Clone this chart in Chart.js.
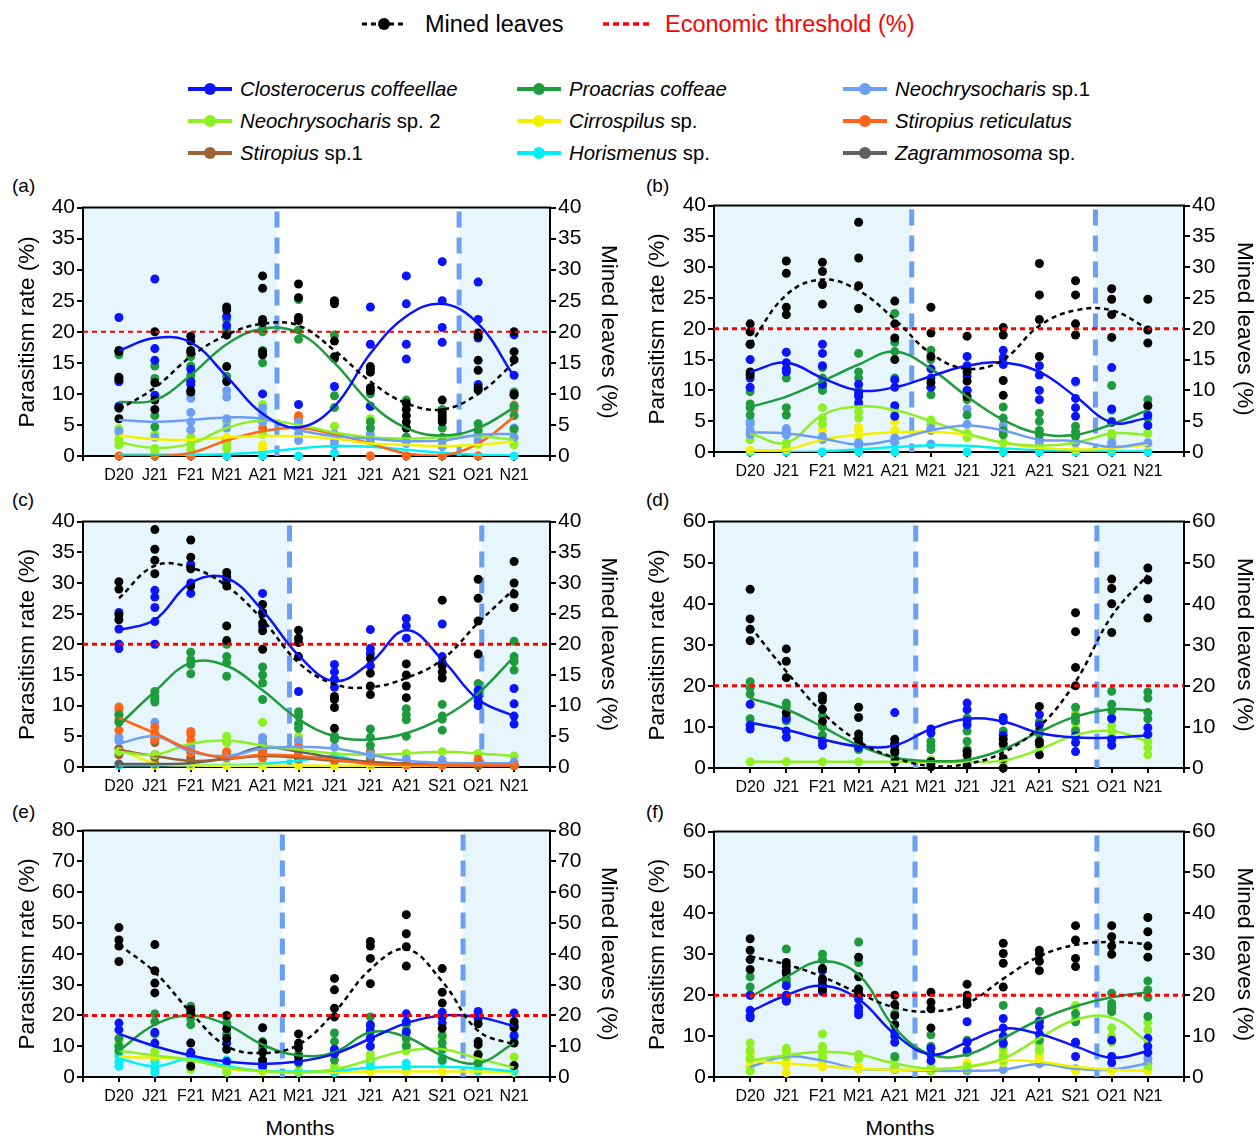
<!DOCTYPE html>
<html>
<head>
<meta charset="utf-8">
<script src="https://cdn.jsdelivr.net/npm/chart.js@4.4.1/dist/chart.umd.min.js"></script>
<style>
  body { margin: 0; background: #fff; width: 1258px; height: 1136px; overflow: hidden; position: relative;
         font-family: "Liberation Sans", Arial, sans-serif; color: #000; }
  .lg { position: absolute; height: 26px; display: flex; align-items: center; white-space: nowrap; }
  .lg svg { flex: none; }
  .big { font-size: 23.5px; }
  .sp { font-size: 20.3px; }
  .sp i { font-style: italic; }
  .tag { position: absolute; font-size: 19px; line-height: 20px; }
  .xt { position: absolute; font-size: 21px; line-height: 24px; width: 120px; text-align: center; }
</style>
</head>
<body>

<div class="lg big" style="left:362px;top:11px">
  <svg width="44" height="14"><line x1="0" y1="7" x2="44" y2="7" stroke="#000" stroke-width="3" stroke-dasharray="5 4"/><circle cx="22" cy="7" r="6" fill="#000"/></svg>
  <span style="margin-left:19px">Mined leaves</span>
</div>
<div class="lg big" style="left:603px;top:11px">
  <svg width="47" height="14"><line x1="0" y1="7" x2="47" y2="7" stroke="#ff0000" stroke-width="3.5" stroke-dasharray="6 4"/></svg>
  <span style="margin-left:15px;color:#ff0000">Economic threshold (%)</span>
</div>
<div id="legend"></div>

<div class="tag" style="left:12px;top:176px">(a)</div>
<div class="tag" style="left:646px;top:176px">(b)</div>
<div class="tag" style="left:12px;top:490px">(c)</div>
<div class="tag" style="left:646px;top:490px">(d)</div>
<div class="tag" style="left:12px;top:802px">(e)</div>
<div class="tag" style="left:646px;top:802px">(f)</div>
<div class="xt" style="left:240px;top:1116px">Months</div>
<div class="xt" style="left:840px;top:1116px">Months</div>

<script>
// months on the x axis
const months = ['D20', 'J21', 'F21', 'M21', 'A21', 'M21', 'J21', 'J21', 'A21', 'S21', 'O21', 'N21'];

// (a)
const aMined = [7.5, 11, 16, 19.5, 21.3, 21, 17, 12, 8.5, 7.5, 10, 15];
const aMinedPts = [[17, 16.8, 12.7, 12.3, 7.7, 6], [20, 11.8, 9, 7.5], [19.3, 18.5, 17, 16.7, 10.5, 10.3], [24, 23.5, 19.5, 14.4, 12], [29, 27, 22, 21.5, 16.8, 16.3], [27.7, 25.5, 22.3, 21.8], [25, 24.5, 18.5, 16, 15.7], [14.4, 14, 13.5, 11, 10.5], [8.5, 7.5, 6.5, 5.5, 4.5], [9, 7, 6.5, 6, 5.5], [19.8, 19.3, 15.4, 13.8, 11, 10.6], [20, 16.8, 15.5, 10, 9.8]];
const aClos = [17, 19, 18.3, 12.8, 6.8, 4.6, 8, 16.5, 22.5, 24.5, 21.3, 12.8];
const aClosPts = [[22.3, 12, 8], [28.5, 17.3, 15.4, 9.8], [14, 12, 11.5], [22.5, 21, 19.5], [10], [8.3], [11.2], [24, 18, 8], [29, 24.5, 18, 15.6], [31.3, 25, 20.7, 18.3], [28, 22, 19, 11.5], [19.5, 13]];
const aProa = [8.7, 9, 13, 18, 20.5, 19.8, 15, 8.5, 4.5, 3.3, 4.5, 7.8];
const aProaPts = [[16.3, 12, 8], [14.5, 12.5, 6.5, 4.7], [16, 14.5, 13, 12], [22, 20.5, 12.8], [20.5, 20, 17, 15], [25.2, 20.3, 18.8], [19.5, 9.7, 7.8], [10, 8, 5.5, 4.5], [9, 4.5, 3], [7.5, 4.5, 3], [5.2, 4.2], [10.3, 8, 6.5, 4.3]];
const aNeo1 = [5.8, 5.5, 5.8, 6.2, 6, 4.2, 3.2, 2.8, 2.4, 2.5, 3.4, 3.6];
const aNeo1Pts = [[4], [3], [10, 9.3, 7, 5.5, 4.2], [10.5, 9.5, 6, 4.5], [7.7, 6.7, 6, 5.5], [5.5, 4.5, 3.5, 2.5], [3.5, 2.5, 1.8], [3.5, 2.5], [3, 2], [2.5, 1.5], [3.5, 2.5], [4.5, 3]];
const aNeo2 = [2.2, 1.3, 2, 4.5, 5.7, 5, 3.8, 3, 2.8, 3, 3.2, 2.6];
const aNeo2Pts = [[4.4, 2.7, 1.8], [3.5, 1.2, 0.6], [3, 2, 1], [5.5, 2, 1.2], [8.3, 5.5, 3.5], [4.5, 3.5], [4.8, 3], [6, 5.5, 3], [3, 2.2], [3, 1.8], [4, 2], [3, 1.8]];
const aCirr = [3.3, 2.7, 2.6, 3, 3.2, 3.2, 2.8, 2, 1.8, 1.6, 1.8, 2.3];
const aCirrPts = [[3.5, 2.5], [3.5], [2.8], [3], [1.8, 1.3], [4.5], [3], [2], [2], [1.5], [1.8], [2.3]];
const aStir = [0, 0, 0.5, 2.5, 4, 4.5, 3.5, 2, 0.4, 0.1, 2, 6.3];
const aStirPts = [[0], [0], [0], [2.5], [4.5], [6.5, 6], [3.5], [0], [0], [0], [0], [8.2, 7.5]];
const aHor = [0.2, 0.2, 0.2, 0.3, 0.6, 1.2, 1.6, 1.5, 1, 0.5, 0.2, 0.1];
const aHorPts = [[0], [0], [0], [0], [0], [0], [0.5], [0], [0], [0], [0], [0]];

// (b)
const bMined = [17.5, 25.5, 28, 26.2, 21.5, 16, 13.5, 15, 20.5, 23, 23, 20];
const bMinedPts = [[20.8, 19.5, 17.5, 13, 12.5], [31, 29, 23.5, 22.3], [30.8, 29.3, 27.2, 24], [37.3, 31.5, 27, 23.3], [24.5, 20.8, 18.5, 15], [23.5, 19.3, 15.5, 11.3], [18.8, 13, 11.5, 9], [20.2, 19, 11.6, 9.2], [30.6, 25.5, 21.5, 15.5], [27.8, 25.5, 20.8, 19], [26.5, 24.8, 22.3, 18.6], [24.8, 19.8, 17.7, 7.5]];
const bClos = [13, 14.5, 12, 10, 10.5, 12.3, 14, 14.5, 13, 9, 4.8, 5.5];
const bClosPts = [[17.5, 15, 12, 10.5], [16.2, 14.5, 13.5, 13], [17.5, 16, 14, 11], [11, 9.5, 9, 8], [11.7, 10.5, 7.5, 5.8], [13.5, 12, 10.5], [15.5, 14, 12.3, 10], [16.5, 15.3, 14.2], [14, 12.5, 10, 8.5], [11.5, 8.7, 7.2, 5.8], [13.7, 7, 4.8], [6, 4.3]];
const bProa = [7.3, 9, 11.5, 14.2, 16.3, 13.5, 9, 5.2, 3, 2.8, 4.5, 6.8];
const bProaPts = [[9.8, 7.8, 7.2, 6], [12, 7.2, 6], [13.7, 12, 10.5, 10], [16, 13, 12, 10], [22.5, 17.8, 16.3, 12], [16.5, 15, 10.5, 9.3], [10, 8.5, 6], [7.3, 5.5, 3.5, 2.8], [6.3, 5, 3.5, 2.8], [4.2, 3.3, 2.5], [10.8, 6.8, 5], [8.5, 7.5, 5.5]];
const bNeo1 = [3.2, 3, 2.2, 1.2, 2, 3.5, 4.3, 3.5, 2, 1.8, 0.8, 1.5];
const bNeo1Pts = [[5, 4.5, 3.5, 2.8], [3.8, 3.5, 2.8], [2.5, 2], [1.5, 1], [2.3, 1.6], [3.8, 3.5, 1.2], [7, 4.5], [4.3, 3.5], [2, 1.7], [11.3, 1.5], [1.5, 1], [1.5]];
const bNeo2 = [3, 1.5, 6, 7.4, 6.8, 5, 3, 1.5, 1, 1.5, 3, 2.8];
const bNeo2Pts = [[3, 2], [1.5, 0.8], [7.2, 5.5, 4.5], [7.5, 6.5, 5.5], [7, 6], [5.2, 4.5], [3, 2.3], [1.5], [1], [1.5], [3, 2.5], [3]];
const bCirr = [0.3, 0.4, 2, 2.8, 3.2, 3.3, 2.8, 1.5, 0.7, 0.4, 0.6, 1.2];
const bCirrPts = [[0.3], [0.4], [3.5], [4, 3.5, 2.5], [5, 3.5], [3.5], [3], [1.5], [0.7], [0.4], [0.6], [1.2]];
const bHor = [0, 0, 0.1, 0.4, 0.8, 1.1, 1, 0.6, 0.3, 0.2, 0.1, 0.1];
const bHorPts = [[0], [0], [0], [0], [0], [1.3], [0], [0], [0], [0], [0], [0]];

// (c)
const cMined = [27.5, 32.8, 32.5, 29.5, 24, 17, 13.5, 13, 14.5, 17.5, 23.5, 29];
const cMinedPts = [[30.2, 29, 24.8, 24], [38.7, 35.5, 33.7, 31.5], [37, 34.2, 32.3, 29.5], [31.7, 31, 29.5, 23, 20.6], [26.5, 25.2, 23.5, 22.2, 19.2], [22.3, 21, 20.3, 18], [11.5, 11, 9.7, 6.3], [17.7, 15.3, 13.2, 11.8], [16.8, 15, 13.2, 11.3], [27.2, 16.5, 15.5, 14.5], [30.6, 27.5, 23.8, 18.4], [33.5, 30, 28.2, 26]];
const cClos = [22.3, 24, 30, 30.8, 25.5, 18.2, 14, 17, 22.3, 17.5, 11, 8.3];
const cClosPts = [[25.2, 22.5, 20, 19.3], [28.8, 27.7, 26, 23.7, 20], [33, 30, 28.3], [31, 30.5], [28.3, 25, 23], [12.3], [16.7, 15.5, 14.3, 13], [22.4, 19.3, 18.5, 16.5], [24.2, 23, 21], [23.3, 18, 17], [12.5, 11.5, 10.8, 10], [12.8, 10.3, 8.3, 7]];
const cProa = [6.8, 12.3, 17, 16.5, 12.5, 7.8, 5, 4.5, 5.5, 8, 12, 18];
const cProaPts = [[8.5, 7.3], [12.3, 11.5, 11, 10.6], [18.7, 17.5, 16.7, 15.2], [20, 18, 17, 14.8], [16.3, 15, 13.7, 11], [9, 8.3, 7, 6.3], [5, 4.5], [6.2, 4.8, 3.5], [9.5, 8.5, 7.7, 5], [10.2, 8.3, 7.8, 6], [13.6, 12.5, 12], [20.5, 18, 17.2, 15.8]];
const cNeo1 = [3.8, 5, 2.5, 1.8, 3, 3.3, 3, 2, 1, 0.7, 0.6, 0.6];
const cNeo1Pts = [[4.8, 4.3], [7.3, 4.5], [3.3, 2.5], [1.5], [4.8, 4], [4.3, 3.5], [3.2], [2], [1.3], [1.1], [0.8], [0.8]];
const cNeo2 = [2.5, 2, 3.8, 4.3, 3.5, 2.8, 2.2, 2, 2.2, 2.5, 2.2, 1.8];
const cNeo2Pts = [[2.5], [2], [3], [5, 4], [7.3], [5, 4.3], [5], [2], [2.2], [2.5], [2.2], [1.8]];
const cCirr = [3, 0.6, 0.3, 0.2, 0.2, 0.2, 0.2, 0.2, 0.2, 0.2, 0.2, 0.2];
const cCirrPts = [[3], [0.3], [0.2], [0.2], [0.2], [0.2], [0.2], [0.2], [0.2], [0.2], [0.2], [0.2]];
const cStir = [8, 5.5, 2.8, 1.5, 2, 1.8, 1.2, 0.5, 0.3, 0.3, 0.3, 0.3];
const cStirPts = [[9.8, 9.3, 8.5, 7.7, 6], [6.5, 5.5, 5, 4.5], [5.8, 5.3, 4.3, 2.3], [2.5, 2], [2.3, 1.5], [3.2, 2.3], [1.2], [0.5], [0.3], [0.3], [1.3], [0.3]];
const cStir1 = [2.8, 1.8, 1, 1.3, 1.8, 1.5, 1, 0.8, 0.5, 0.3, 0.2, 0.2];
const cStir1Pts = [[3, 2], [4, 2, 1.5], [1.5], [2], [3, 2.5, 2], [1.3], [1], [2.5, 2, 1.5], [0.5], [0.3], [0.2], [0.2]];
const cHor = [0.3, 0.3, 0.3, 0.3, 0.5, 1, 1.8, 0.5, 0.3, 0.3, 0.3, 0.3];
const cHorPts = [[0.3], [0.3], [0.3], [0.3], [0.5], [1], [1.8], [0.5], [0.3], [0.3], [0.3], [0.3]];
const cZag = [0.5, 0.5, 0.6, 1.5, 3.2, 2.5, 1.5, 0.8, 0.5, 0.4, 0.4, 0.4];
const cZagPts = [[0.5], [0.5], [0.6], [1.5], [3.8, 3.2], [2.5], [1.5], [0.8], [0.5], [0.4], [0.4], [0.4]];

// (d)
const dMined = [34.5, 23.5, 13.5, 6.5, 2.5, 0.5, 1, 3.8, 10, 21, 37, 47];
const dMinedPts = [[43.5, 36.3, 33.8, 31], [29, 26, 22, 13.5], [17.5, 16.5, 14.3, 11.3], [14.8, 12.3, 8.3, 7.2, 6], [7, 5.8, 4.3, 3.8, 1.4], [1.6, 1, 0.3], [4, 3.2, 1.6, 0.7], [7, 6, 2.3, 0], [15, 6.5, 5.8, 3.2], [37.8, 33.2, 24.5, 20], [46, 43.7, 40, 33], [48.7, 45.8, 41.2, 36.5]];
const dClos = [11, 9.3, 7, 5.3, 5.5, 9.5, 12, 11.3, 8.5, 7.4, 7.4, 8];
const dClosPts = [[15.5, 10.5, 9.5], [12, 9, 7.5], [6.5, 5.5], [5], [13.5, 6, 5.5], [9.5, 8.5], [15.8, 14.2, 11.5, 10.5], [12.3, 11.5, 8], [13, 10.5], [7.8, 6.2, 4], [12, 7, 5.5], [9.8, 8.2]];
const dProa = [17, 14.3, 10, 5.5, 2.5, 1.7, 2, 4.5, 8.8, 12.5, 14.3, 14];
const dProaPts = [[21, 19.5, 18, 12], [15.8, 15, 12.5, 11.5], [12.7, 10, 8], [6.5, 4.5], [2.5], [6.5, 5.5, 4.5], [12.2, 9, 6.5, 4.5], [9, 5.5], [11.3, 9.2, 8.3], [14.8, 12.5, 11.5, 9], [18.7, 15.5, 14, 12.2], [18.5, 17, 13.5, 12]];
const dNeo2 = [1.5, 1.5, 1.5, 1.5, 1.5, 1.5, 1.5, 1.8, 4.5, 8, 9, 6.5];
const dNeo2Pts = [[1.5], [1.5], [1.5], [1.5], [1.5], [2], [1.5], [2, 1.5], [4.7], [13.3, 11, 9.5, 8.2], [10.3, 9, 7.8, 6.5], [8, 6.5, 5, 3.2]];

// (e)
const eMined = [43, 34, 21, 10, 7.8, 10.5, 21, 35, 41.5, 31, 15, 10.5];
const eMinedPts = [[48.5, 44.5, 42.5, 37.5], [43, 34.5, 30.5, 27.3], [22, 20.5, 11, 3.5], [20, 15.7, 12.5, 9], [16, 11, 8, 5.5], [14, 11, 9.5, 6.5], [32, 28.3, 22.3, 19.5], [44, 42.5, 38.5, 30.3], [52.7, 46.5, 42.3, 36], [35.2, 27.5, 24, 15.8], [17.3, 11.5, 10.5, 7.2], [18, 16, 11, 3.7]];
const eClos = [14, 10, 7, 5, 4.2, 5, 7.5, 12.5, 17.5, 20, 19.5, 16.5];
const eClosPts = [[17.5, 15.3], [14.5, 11], [8, 7], [11, 5], [4.5, 3.5], [5], [9, 7.5], [17, 15, 12.5, 10], [20.5, 18, 14.5], [21, 19.3, 17.5], [21.3, 20.3, 19], [20.8, 16.5, 13.5]];
const eProa = [8.5, 17, 20, 17, 10.5, 7, 8, 14.5, 13, 7, 4.5, 11];
const eProaPts = [[12.5, 10, 8.5], [20.5, 18, 14], [23, 21.5, 19, 17], [19.5, 17.5, 14], [11.5, 9.5, 5.5], [7.5, 4.5], [14.3, 11.5, 8, 5.5], [19.5, 16.5, 14.5, 12.5], [17, 15, 12.5, 10], [13.5, 11, 9, 5.5], [7.5, 4.5], [17, 13, 11.5]];
const eNeo2 = [8.5, 7, 5.5, 3, 2, 1.5, 2.5, 5.5, 8.5, 9, 6, 3];
const eNeo2Pts = [[11, 9], [8.3, 6.5], [5, 2.5], [3, 1.5], [2], [2], [3.5], [7.5, 6], [10.5, 8.5], [12.5, 9], [7.5, 5], [6.5, 3.5]];
const eCirr = [6.5, 6.3, 5.8, 2.8, 1.8, 1.5, 1.5, 1.8, 1.8, 1.8, 1.8, 1.5];
const eCirrPts = [[6.5], [6], [5.5], [3], [2], [1.5], [1.5], [1.8], [1.8], [1.8], [1.8], [1.5]];
const eHor = [6, 3.5, 6, 3.5, 2, 1.8, 2, 3, 3.3, 3.3, 2.8, 1.8];
const eHorPts = [[10, 7, 5, 3.5], [5, 3, 1.5], [7, 5, 3], [5.5, 3.5], [2.5], [1.5], [2, 1.5], [5, 3.5], [4.5, 3], [6.5, 5], [3.5, 2], [2]];

// (f)
const fMined = [29.5, 27.5, 24.5, 20.5, 17, 16, 18, 24, 29.5, 32.3, 33, 32.5];
const fMinedPts = [[33.8, 31, 28.7, 26.3], [28, 27, 26, 25.3], [26.5, 24, 22.5, 21.3], [29.3, 24.5, 21.5, 20.5], [20, 17.7, 15, 12.8], [20.7, 18.3, 16.7, 12], [22.7, 20, 18.8, 17.7], [32.7, 30.2, 27.8, 22], [31, 30, 28.3, 26], [37, 33.5, 29, 27], [37, 34.3, 32, 30], [39, 35.5, 32, 29.3]];
const fClos = [16, 20, 22.3, 19, 10.5, 5.5, 8.5, 11.8, 10.5, 7.5, 4.7, 6.3];
const fClosPts = [[20, 16.3, 15, 14.5], [22.3, 20, 19, 18.5], [26, 23.5, 22, 20.8], [19, 17, 16, 15.2], [11, 10, 8.5], [7, 5.5, 4], [13.5, 8.5, 6.5], [14.3, 12, 10, 8.3], [13.7, 12.3, 10.5], [8.5, 5], [9, 5, 3.5], [9.5, 7.5, 6]];
const fProa = [19.5, 24.5, 28.3, 25, 12, 5.5, 5.5, 9.5, 14, 17.3, 19.5, 20.7];
const fProaPts = [[24.5, 22, 20], [31.3, 24, 23.3], [30, 28.7, 26.5], [33, 28, 21.5], [15.5, 12.8, 5], [10.3, 7.5], [9, 6], [17.5, 8], [16, 13.5, 9], [15.5, 13.5, 8.5], [20.5, 18, 17, 16], [23.5, 21.3, 19.5, 14.8]];
const fNeo1 = [2.5, 5, 4, 2, 1.8, 1.5, 1.5, 1.8, 3.2, 2, 1.8, 3.3];
const fNeo1Pts = [[2.5], [5], [4], [2], [1.8], [1.5], [1.5], [1.8], [3.2], [2], [1.8], [3.3, 4.5]];
const fNeo2 = [4, 5.3, 6.2, 5.5, 3.3, 2, 2.5, 4.5, 9.5, 14, 14.5, 8.5];
const fNeo2Pts = [[8.3, 6.5, 4.5, 1.5], [7, 6.5, 5], [10.5, 7.5, 6.5, 5], [5.5, 4.5], [4.5, 2.5], [2.5, 1.5], [2.5, 2], [7, 5, 4], [9.5, 8, 6.5], [17.5, 14.5, 13.5, 8], [16, 12, 10, 8.5], [13.3, 11.5, 9, 2.5]];
const fCirr = [4, 3.3, 2.7, 2, 1.8, 1.8, 2.5, 4, 3.7, 2.5, 1.8, 1.5];
const fCirrPts = [[6, 5, 4, 2.5, 1.5], [6, 5, 4, 3, 1], [5, 3.5, 2.5], [2.5, 2], [2], [2], [3.5, 2.5], [6, 5, 3.5], [7, 6, 5, 4.5], [1.5], [1.5], [1.5]];

const threshold = 20;

// species colours and legend names
const species = {
  clos:  { color: '#0a14ff', name: '<i>Closterocerus coffeellae</i>' },
  proa:  { color: '#1e9b3c', name: '<i>Proacrias coffeae</i>' },
  neo1:  { color: '#6c9ef5', name: '<i>Neochrysocharis</i> sp.1' },
  neo2:  { color: '#8cf023', name: '<i>Neochrysocharis</i> sp. 2' },
  cirr:  { color: '#f2f200', name: '<i>Cirrospilus</i> sp.' },
  stir:  { color: '#ff6418', name: '<i>Stiropius reticulatus</i>' },
  stir1: { color: '#9b6432', name: '<i>Stiropius</i> sp.1' },
  hor:   { color: '#00f0f5', name: '<i>Horismenus</i> sp.' },
  zag:   { color: '#5f5f5f', name: '<i>Zagrammosoma</i> sp.' }
};

// legend grid
const legendOrder = ['clos', 'proa', 'neo1', 'neo2', 'cirr', 'stir', 'stir1', 'hor', 'zag'];
const legendCols = [188, 517, 843];
const legendRows = [89, 121, 153];
const legendBox = document.getElementById('legend');
legendOrder.forEach((k, i) => {
  const d = document.createElement('div');
  d.className = 'lg sp';
  d.style.left = legendCols[i % 3] + 'px';
  d.style.top = (legendRows[Math.floor(i / 3)] - 13) + 'px';
  const c = species[k].color;
  d.innerHTML = `<svg width="44" height="14"><line x1="0" y1="7" x2="44" y2="7" stroke="${c}" stroke-width="4"/>` +
    `<circle cx="22" cy="7" r="6" fill="${c}"/></svg><span style="margin-left:8px">${species[k].name}</span>`;
  legendBox.appendChild(d);
});

const panels = [
  { max: 40, step: 5, d1: 4.4, d2: 9.47, mined: aMined, minedPts: aMinedPts,
    series: [['hor', aHor, aHorPts], ['stir', aStir, aStirPts], ['cirr', aCirr, aCirrPts], ['neo2', aNeo2, aNeo2Pts],
             ['neo1', aNeo1, aNeo1Pts], ['proa', aProa, aProaPts], ['clos', aClos, aClosPts]] },
  { max: 40, step: 5, d1: 4.47, d2: 9.55, mined: bMined, minedPts: bMinedPts,
    series: [['hor', bHor, bHorPts], ['cirr', bCirr, bCirrPts], ['neo2', bNeo2, bNeo2Pts], ['neo1', bNeo1, bNeo1Pts],
             ['proa', bProa, bProaPts], ['clos', bClos, bClosPts]] },
  { max: 40, step: 5, d1: 4.75, d2: 10.1, mined: cMined, minedPts: cMinedPts,
    series: [['hor', cHor, cHorPts], ['cirr', cCirr, cCirrPts], ['zag', cZag, cZagPts], ['stir1', cStir1, cStir1Pts],
             ['neo2', cNeo2, cNeo2Pts], ['neo1', cNeo1, cNeo1Pts], ['stir', cStir, cStirPts],
             ['proa', cProa, cProaPts], ['clos', cClos, cClosPts]] },
  { max: 60, step: 10, d1: 4.58, d2: 9.59, mined: dMined, minedPts: dMinedPts,
    series: [['neo2', dNeo2, dNeo2Pts], ['proa', dProa, dProaPts], ['clos', dClos, dClosPts]] },
  { max: 80, step: 10, d1: 4.55, d2: 9.58, mined: eMined, minedPts: eMinedPts,
    series: [['cirr', eCirr, eCirrPts], ['hor', eHor, eHorPts], ['neo2', eNeo2, eNeo2Pts],
             ['proa', eProa, eProaPts], ['clos', eClos, eClosPts]] },
  { max: 60, step: 10, d1: 4.56, d2: 9.59, mined: fMined, minedPts: fMinedPts,
    series: [['neo1', fNeo1, fNeo1Pts], ['cirr', fCirr, fCirrPts], ['neo2', fNeo2, fNeo2Pts],
             ['proa', fProa, fProaPts], ['clos', fClos, fClosPts]] }
];

// where each panel sits on the page
const boxes = [
  { left: 0,   w: 630, top: 205, bottom: 456,  lw: 83, rw: 80, rpad: 8, xh: 32, thr: 2 },
  { left: 630, w: 628, top: 203, bottom: 452,  lw: 84, rw: 74, rpad: 0, xh: 32, thr: 3 },
  { left: 0,   w: 630, top: 519, bottom: 767,  lw: 83, rw: 80, rpad: 8, xh: 32, thr: 3 },
  { left: 630, w: 628, top: 519, bottom: 768,  lw: 84, rw: 74, rpad: 0, xh: 32, thr: 3 },
  { left: 0,   w: 630, top: 828, bottom: 1077, lw: 83, rw: 80, rpad: 8, xh: 36, thr: 3 },
  { left: 630, w: 628, top: 829, bottom: 1077, lw: 84, rw: 74, rpad: 0, xh: 36, thr: 3 }
];

Chart.defaults.font.family = '"Liberation Sans", Arial, sans-serif';
Chart.defaults.color = '#000';

const asLine = arr => arr.map((v, i) => ({ x: i, y: v }));
const asPts = arr => arr.flatMap((vals, i) => vals.map(v => ({ x: i, y: v })));

// dry-season shading, season boundaries and the top frame line
const seasonPlugin = {
  id: 'seasons',
  beforeDraw(chart, args, o) {
    const { ctx, chartArea: ca, scales: { x } } = chart;
    const x1 = x.getPixelForValue(o.d1), x2 = x.getPixelForValue(o.d2);
    ctx.save();
    ctx.fillStyle = '#e7f5fd';
    ctx.fillRect(ca.left, ca.top, x1 - ca.left, ca.height);
    ctx.fillRect(x2, ca.top, ca.right - x2, ca.height);
    ctx.restore();
  },
  beforeDatasetsDraw(chart, args, o) {
    const { ctx, chartArea: ca, scales: { x } } = chart;
    ctx.save();
    ctx.strokeStyle = '#6b9ff2';
    ctx.lineWidth = 5;
    ctx.setLineDash([16, 10]);
    [o.d1, o.d2].forEach(v => {
      const px = x.getPixelForValue(v);
      ctx.beginPath();
      ctx.moveTo(px, ca.top + 4);
      ctx.lineTo(px, ca.bottom);
      ctx.stroke();
    });
    ctx.restore();
  },
  afterDraw(chart) {
    const { ctx, chartArea: ca } = chart;
    ctx.save();
    ctx.strokeStyle = '#000';
    ctx.lineWidth = 2;
    ctx.beginPath();
    ctx.moveTo(ca.left - 1, ca.top);
    ctx.lineTo(ca.right + 1, ca.top);
    ctx.stroke();
    ctx.restore();
  }
};

function makeChart(p, b) {
  const cv = document.createElement('canvas');
  const top = b.top - 12;
  const h = (b.bottom - b.top) + 12 + b.xh;
  cv.width = b.w;
  cv.height = h;
  cv.style.cssText = `position:absolute;left:${b.left}px;top:${top}px;width:${b.w}px;height:${h}px`;
  document.body.appendChild(cv);

  const ds = [];
  // replicate points first
  p.series.forEach(([k, , pts]) => ds.push({
    type: 'scatter', data: asPts(pts), backgroundColor: species[k].color, borderWidth: 0,
    pointRadius: 4.5, yAxisID: 'y', clip: false
  }));
  ds.push({ type: 'scatter', data: asPts(p.minedPts), backgroundColor: '#000', borderWidth: 0,
    pointRadius: 4.5, yAxisID: 'y2', clip: false });
  // fitted curves
  p.series.forEach(([k, vals]) => ds.push({
    type: 'line', data: asLine(vals), borderColor: species[k].color, borderWidth: 2.5,
    pointRadius: 0, tension: 0.4, fill: false, yAxisID: 'y'
  }));
  ds.push({ type: 'line', data: [{ x: -1, y: threshold }, { x: 12, y: threshold }], borderColor: '#ff0000',
    borderWidth: b.thr, borderDash: [5, 4], pointRadius: 0, yAxisID: 'y' });
  ds.push({ type: 'line', data: asLine(p.mined), borderColor: '#000', borderWidth: 2.5, borderDash: [5, 4],
    pointRadius: 0, tension: 0.4, fill: false, yAxisID: 'y2' });
  ds.forEach((d, i) => { d.order = -i; });

  const yAxis = (pos, w, title, tpad) => ({
    position: pos, min: 0, max: p.max,
    ticks: { stepSize: p.step, color: '#000', font: { size: 21 }, padding: 2 },
    grid: { drawOnChartArea: false, color: '#000', lineWidth: 2, tickLength: 6 },
    border: { color: '#000', width: 2 },
    title: { display: true, text: title, color: '#000', font: { size: 22.5 }, padding: { top: tpad, bottom: 0 } },
    afterFit: s => { s.width = w; }
  });

  new Chart(cv, {
    type: 'scatter',
    data: { datasets: ds },
    plugins: [seasonPlugin],
    options: {
      responsive: false,
      animation: false,
      layout: { padding: { top: 12, left: 0, right: 0, bottom: 0 } },
      plugins: {
        legend: { display: false },
        tooltip: { enabled: false },
        seasons: { d1: p.d1, d2: p.d2 }
      },
      scales: {
        x: {
          type: 'linear', min: -1, max: 12,
          afterBuildTicks: s => { s.ticks = Array.from({ length: 14 }, (_, i) => ({ value: i - 1 })); },
          ticks: { autoSkip: false, maxRotation: 0, padding: 5, font: { size: 16 }, color: '#000',
                   callback: v => months[v] ?? '' },
          grid: { drawOnChartArea: false, color: '#000', lineWidth: 2, tickLength: 5 },
          border: { color: '#000', width: 2 },
          afterFit: s => { s.height = b.xh; }
        },
        y: yAxis('left', b.lw, 'Parasitism rate (%)', 14),
        y2: yAxis('right', b.rw, 'Mined leaves (%)', b.rpad)
      }
    }
  });
}

panels.forEach((p, i) => makeChart(p, boxes[i]));
</script>
</body>
</html>
